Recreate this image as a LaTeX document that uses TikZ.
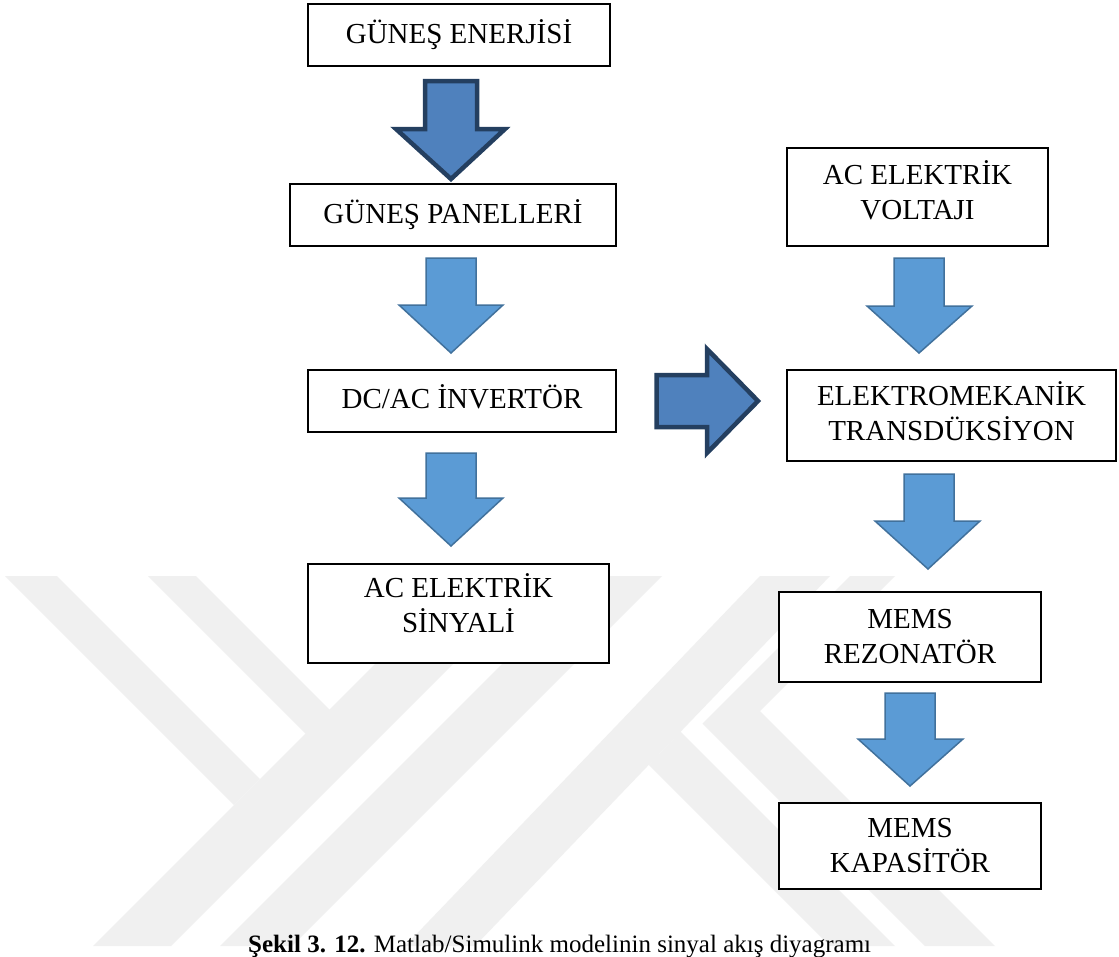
\documentclass[tikz,border=0pt]{standalone}
\usepackage{fontspec}
\setmainfont{Liberation Serif}
\definecolor{lfill}{HTML}{5B9BD5}
\definecolor{ldraw}{HTML}{41719C}
\definecolor{dfill}{HTML}{4F81BD}
\definecolor{ddraw}{HTML}{243F60}
\definecolor{wmark}{HTML}{F0F0F0}
\begin{document}
\begin{tikzpicture}[x=1pt,y=-1pt,
  box/.style={draw=black, line width=1.8pt, fill=white, inner sep=0pt, align=center,
    font=\fontsize{29}{35}\selectfont},
  lightarrow/.style={fill=lfill, draw=ldraw, line width=1.5pt, line join=miter},
  darkarrow/.style={fill=dfill, draw=ddraw, line width=4.5pt, line join=miter},
  wmband/.style={fill=wmark, draw=none}]
\useasboundingbox (0,0) rectangle (1119,956);
\clip (0,0) rectangle (1119,956);
\fill[white] (0,0) rectangle (1119,956);
% watermark
\path[wmband] (5,576) -- (57,576) -- (260,779) -- (234,805) -- cycle;
\path[wmband] (148,576) -- (196,576) -- (330,710) -- (306,734) -- cycle;
\path[wmband] (93,946) -- (171,946) -- (541,576) -- (463,576) -- cycle;
\path[wmband] (220,946) -- (292,946) -- (662,576) -- (590,576) -- cycle;
\path[wmband] (405,946) -- (475,946) -- (830,576) -- (760,576) -- cycle;
\path[wmband] (850,576) -- (895,576) -- (760,711) -- (995,946) -- (925,946) -- (702.5,723.5) -- cycle;
\path[wmband] (830,946) -- (895,946) -- (680.6,731.6) -- (648.8,764.8) -- cycle;
% boxes
\node[box, minimum width=302pt, minimum height=62pt] (gunes) at (459,35) {GÜNEŞ ENERJİSİ};
\node[box, minimum width=326pt, minimum height=62pt] (panel) at (453,215) {GÜNEŞ PANELLERİ};
\node[box, minimum width=308pt, minimum height=62pt, text depth=9pt] (inv) at (462,401) {DC/AC İNVERTÖR};
\node[box, minimum width=301pt, minimum height=99pt, text depth=20pt] (acsig) at (458.5,613.5) {AC ELEKTRİK\\SİNYALİ};
\node[box, minimum width=261pt, minimum height=98pt, text depth=14pt] (acvolt) at (917.5,197) {AC ELEKTRİK\\VOLTAJI};
\node[box, minimum width=329pt, minimum height=91pt, text depth=8pt] (elektro) at (951.5,415.5) {ELEKTROMEKANİK\\TRANSDÜKSİYON};
\node[box, minimum width=262pt, minimum height=90pt] (rez) at (910,637) {MEMS\\REZONATÖR};
\node[box, minimum width=262pt, minimum height=86pt] (kap) at (910,846) {MEMS\\KAPASİTÖR};
% block arrows
\path[darkarrow] (425,81) -- (477,81) -- (477,129) -- (505,129) -- (451,179) -- (396,129) -- (425,129) -- cycle;
\path[lightarrow] (426,258) -- (476,258) -- (476,305) -- (503,305) -- (451,353) -- (399,305) -- (426,305) -- cycle;
\path[lightarrow] (426,453) -- (476,453) -- (476,498) -- (503,498) -- (451,546) -- (399,498) -- (426,498) -- cycle;
\path[darkarrow] (656.5,375) -- (707,375) -- (707,349) -- (758,401) -- (707,453) -- (707,427) -- (656.5,427) -- cycle;
\path[lightarrow] (894,258) -- (944,258) -- (944,306) -- (972,306) -- (919,353) -- (867,306) -- (894,306) -- cycle;
\path[lightarrow] (904,474) -- (954,474) -- (954,521) -- (980,521) -- (928,569) -- (875,521) -- (904,521) -- cycle;
\path[lightarrow] (885,693) -- (935,693) -- (935,739) -- (963,739) -- (910,786) -- (858,739) -- (885,739) -- cycle;
% caption
\node[anchor=base west, inner sep=0pt, font=\fontsize{25}{30}\selectfont] (caption) at (248,952)
  {\textbf{Şekil 3. 12.} Matlab/Simulink modelinin sinyal akış diyagramı};
\end{tikzpicture}
\end{document}
